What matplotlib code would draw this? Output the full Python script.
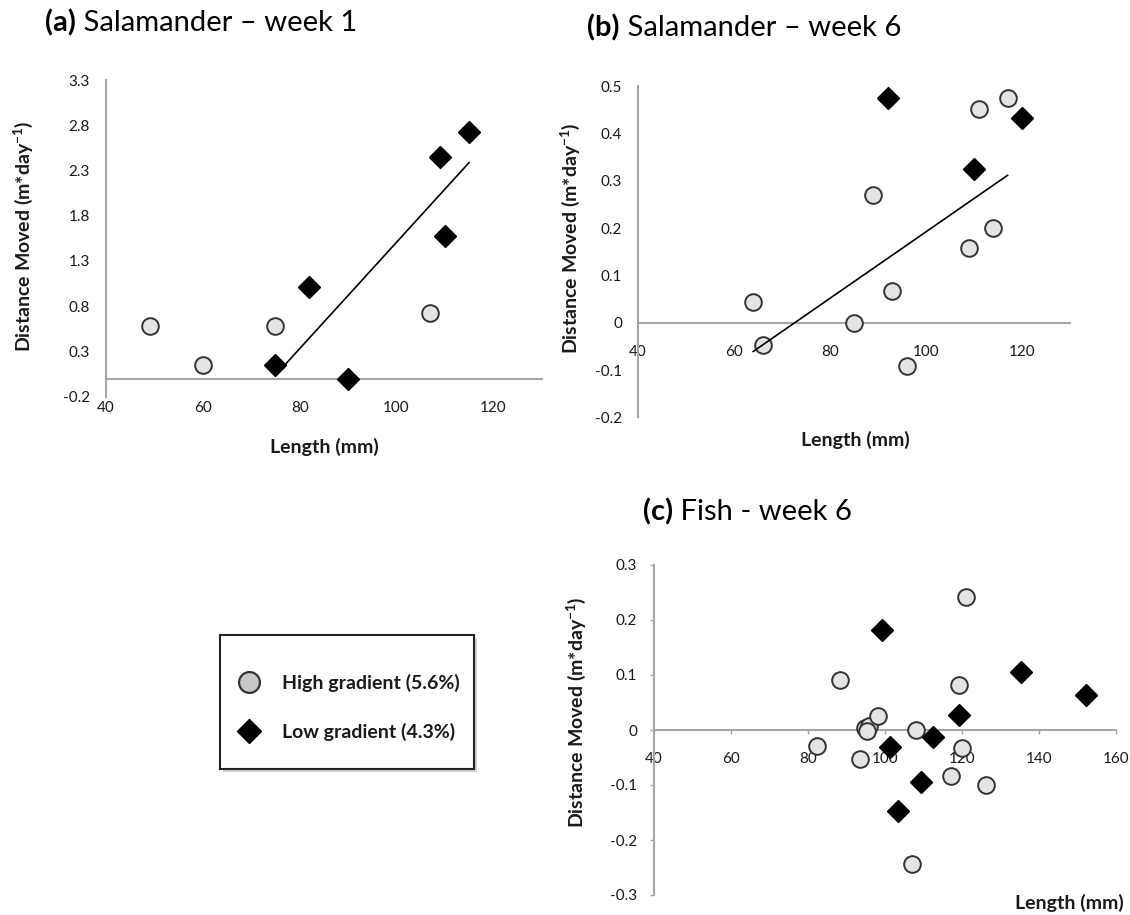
import matplotlib
matplotlib.use("Agg")
import matplotlib.pyplot as plt
from matplotlib.lines import Line2D
from matplotlib.patches import Rectangle
import numpy as np

plt.rcParams['font.family'] = ['Lato', 'DejaVu Sans']
plt.rcParams['axes.unicode_minus'] = False
plt.rcParams['mathtext.fontset'] = 'custom'
plt.rcParams['mathtext.rm'] = 'Lato'
plt.rcParams['mathtext.bf'] = 'Lato:bold'

# (a) Salamander - week 1
a_high_x = [49, 60, 75, 107]
a_high_y = [0.58, 0.15, 0.58, 0.72]
a_low_x = [75, 82, 90, 109, 110, 115]
a_low_y = [0.15, 1.01, 0.0, 2.45, 1.58, 2.73]
a_xticks = [40, 60, 80, 100, 120]
a_yticks = [-0.2, 0.3, 0.8, 1.3, 1.8, 2.3, 2.8, 3.3]

# (b) Salamander - week 6
b_high_x = [64, 66, 85, 89, 93, 96, 109, 111, 114, 117]
b_high_y = [0.044, -0.047, 0.0, 0.27, 0.068, -0.091, 0.157, 0.451, 0.201, 0.474]
b_low_x = [92, 110, 120]
b_low_y = [0.474, 0.324, 0.432]
b_xticks = [40, 60, 80, 100, 120]
b_yticks = [-0.2, -0.1, 0, 0.1, 0.2, 0.3, 0.4, 0.5]

# (c) Fish - week 6
c_high_x = [82.3, 88.4, 93.4, 94.7, 95.8, 95.4, 98.3, 108, 107, 117.1, 119.1, 120.1, 121.1, 126.2]
c_high_y = [-0.029, 0.091, -0.052, 0.003, 0.008, -0.002, 0.025, 0.0, -0.244, -0.084, 0.081, -0.032, 0.242, -0.100]
c_low_x = [99.3, 101.4, 112.4, 109.4, 103.4, 119.3, 135.4, 152.3]
c_low_y = [0.181, -0.030, -0.012, -0.095, -0.148, 0.027, 0.105, 0.063]
c_xticks = [40, 60, 80, 100, 120, 140, 160]
c_yticks = [-0.3, -0.2, -0.1, 0, 0.1, 0.2, 0.3]

legend_labels = ["High gradient (5.6%)", "Low gradient (4.3%)"]
ylabel = r"Distance Moved (m*day$^{\mathbf{-1}}$)"
xlabel = "Length (mm)"

W, H = 1130, 915
fig = plt.figure(figsize=(W / 100, H / 100), dpi=100)

GREY = '#a6a6a6'
TEXT = '#1a1a1a'
circle_style = dict(marker='o', ls='none', markersize=12, mfc='#e4e4e4', mec='#333333', mew=1.4, zorder=3)
diamond_style = dict(marker='D', ls='none', markersize=11, mfc='black', mec='black', zorder=4)


def px_box(x0, y0, x1, y1):
    return [x0 / W, 1 - y1 / H, (x1 - x0) / W, (y1 - y0) / H]


def style_axes(ax, xlim, ylim, xticks, yticks, ticks=False):
    ax.set_xlim(xlim)
    ax.set_ylim(ylim)
    ax.patch.set_alpha(0)
    ax.spines['top'].set_visible(False)
    ax.spines['right'].set_visible(False)
    ax.spines['bottom'].set_position(('data', 0))
    for s in ['left', 'bottom']:
        ax.spines[s].set_color(GREY)
        ax.spines[s].set_linewidth(1.5)
    ax.set_xticks(xticks)
    ax.set_xticklabels([f'{v:g}' for v in xticks])
    ax.set_yticks(yticks)
    ax.set_yticklabels([f'{v:g}' for v in yticks])
    if ticks:
        ax.tick_params(axis='both', length=3, width=1, color=GREY, labelsize=11, labelcolor=TEXT)
        ax.tick_params(axis='y', pad=9)
        ax.tick_params(axis='x', pad=13)
    else:
        ax.tick_params(axis='both', length=0, labelsize=11, labelcolor=TEXT)
        ax.tick_params(axis='y', pad=11.5)
        ax.tick_params(axis='x', pad=16)


def title(x, y, tag, rest):
    t = fig.text(x / W, 1 - y / H, tag, weight='bold', size=21, va='center', color='black')
    bb = t.get_window_extent(fig.canvas.get_renderer())
    fig.text(bb.x1 / W, 1 - y / H, rest, size=21, va='center', color='black')


def trend(ax, xs, ys):
    fit = np.polyfit(xs, ys, 1)
    ends = np.array([min(xs), max(xs)])
    ax.plot(ends, np.polyval(fit, ends), color='black', lw=1.2, zorder=3.5)


# panel a
ax_a = fig.add_axes(px_box(106, 80, 541.7, 396.7))
ax_a.plot(a_high_x, a_high_y, **circle_style)
ax_a.plot(a_low_x, a_low_y, **diamond_style)
trend(ax_a, a_low_x, a_low_y)
style_axes(ax_a, (40, 130), (-0.2, 3.3), a_xticks, a_yticks)

# panel b
ax_b = fig.add_axes(px_box(638, 86, 1070, 417.4))
ax_b.plot(b_high_x, b_high_y, **circle_style)
ax_b.plot(b_low_x, b_low_y, **diamond_style)
trend(ax_b, b_high_x, b_high_y)
style_axes(ax_b, (40, 130), (-0.2, 0.5), b_xticks, b_yticks)

# panel c
ax_c = fig.add_axes(px_box(654, 565, 1116, 895))
ax_c.plot(c_high_x, c_high_y, **circle_style)
ax_c.plot(c_low_x, c_low_y, **diamond_style)
style_axes(ax_c, (40, 160), (-0.3, 0.3), c_xticks, c_yticks, ticks=True)

# titles and axis labels
title(45, 23, "(a)", " Salamander \u2013 week 1")
title(587, 28, "(b)", " Salamander \u2013 week 6")
title(643, 512, "(c)", " Fish - week 6")

for x, y in [(23, 236), (570, 238), (576, 712)]:
    fig.text(x / W, 1 - y / H, ylabel, rotation=90, ha='center', va='center',
             weight='bold', size=14, color=TEXT)
fig.text(324 / W, 1 - 447 / H, xlabel, ha='center', va='center', weight='bold', size=14, color=TEXT)
fig.text(855 / W, 1 - 440 / H, xlabel, ha='center', va='center', weight='bold', size=14, color=TEXT)
fig.text(1124 / W, 1 - 903 / H, xlabel, ha='right', va='center', weight='bold', size=14, color=TEXT)

# legend box with a soft shadow
shadow = Rectangle((223 / W, 1 - 772 / H), 254 / W, 134 / H, transform=fig.transFigure,
                   facecolor='#d0d0d0', edgecolor='none')
fig.add_artist(shadow)
shadow.set_zorder(-1)
ax_leg = fig.add_axes(px_box(220, 635, 474, 769))
ax_leg.set_zorder(2)
ax_leg.set_facecolor('white')
ax_leg.set_xticks([])
ax_leg.set_yticks([])
for s in ax_leg.spines.values():
    s.set_color('#222222')
    s.set_linewidth(1.5)
handles = [Line2D([], [], marker='o', ls='none', markersize=15, mfc='#c8c8c8', mec='#333333', mew=1.6),
           Line2D([], [], marker='D', ls='none', markersize=12, mfc='black', mec='black')]
ax_leg.legend(handles, legend_labels, loc='center left', bbox_to_anchor=(0.0, 0.46), frameon=False,
              prop=dict(weight='bold', size=14), handlelength=1.2, handletextpad=1.1,
              labelspacing=1.55, labelcolor=TEXT)

fig.savefig('out.png', dpi=100)
